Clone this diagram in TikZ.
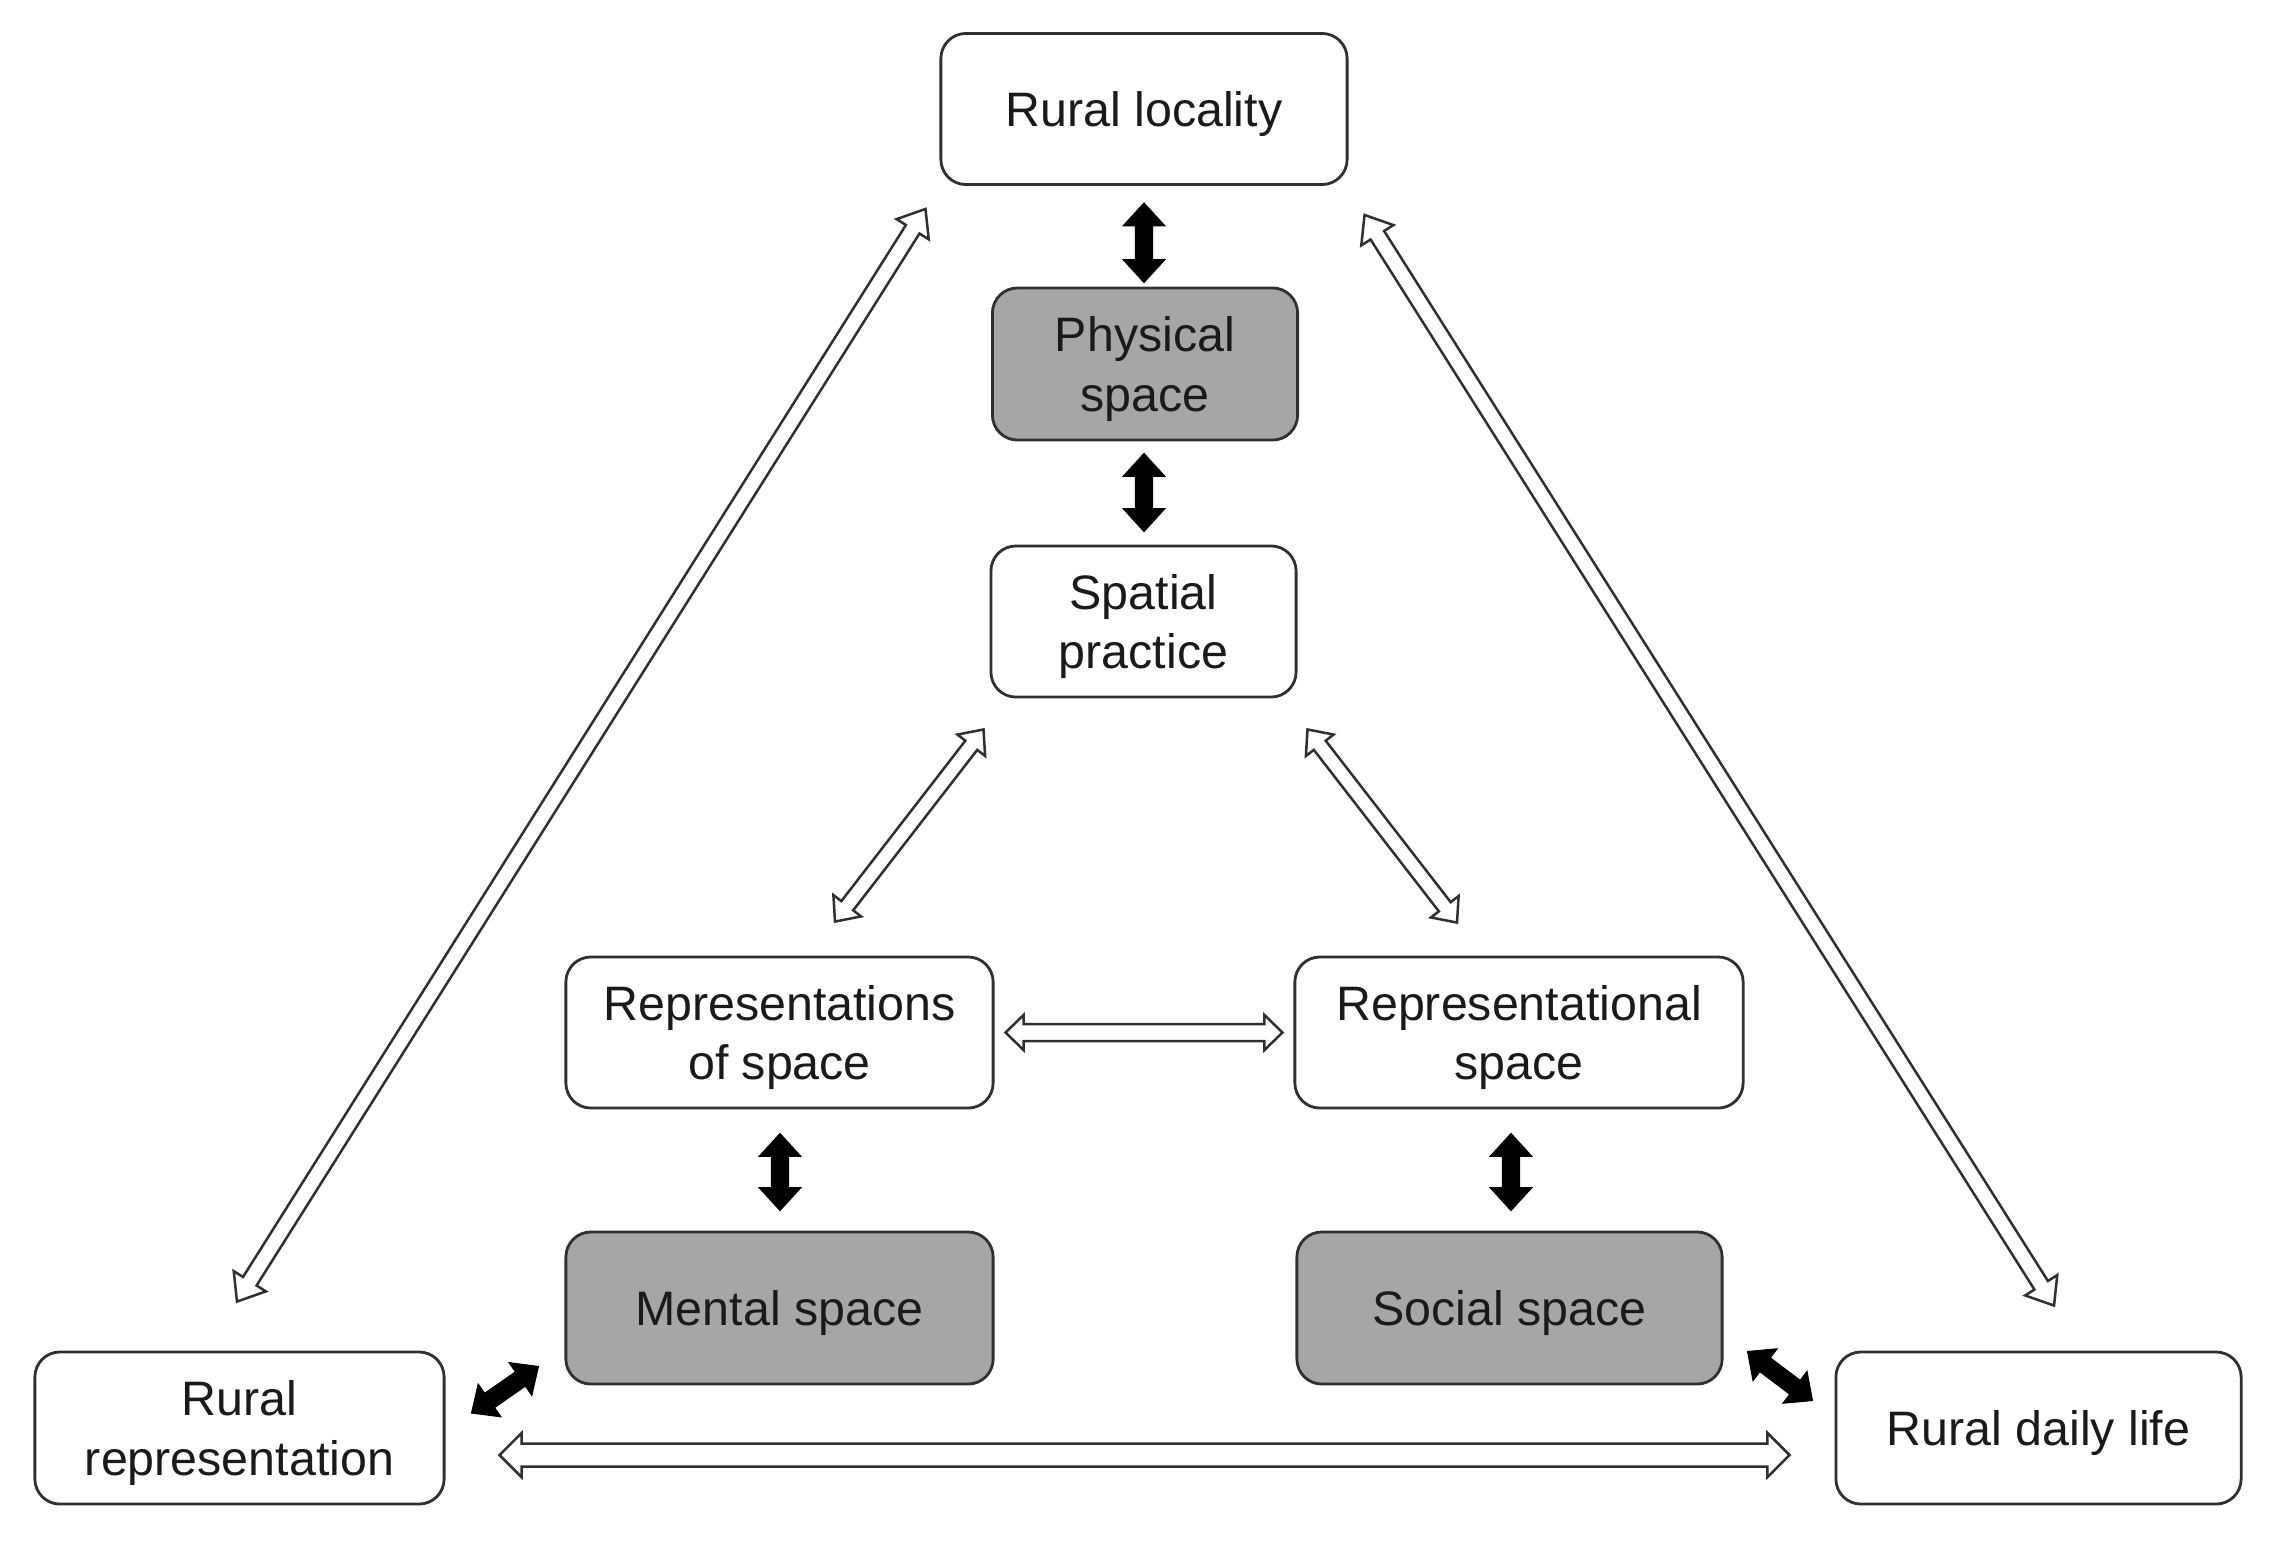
\documentclass[tikz,border=0pt]{standalone}
\usepackage{fontspec}
\setmainfont{Liberation Sans}
\usetikzlibrary{calc}
\definecolor{boxgray}{HTML}{A6A6A6}
\definecolor{edge}{HTML}{303030}
\definecolor{ink}{HTML}{1A1A1A}
\tikzset{
  box/.style={draw=edge, line width=0.028cm, rounded corners=0.25cm, fill=white,
    align=center, text=ink, inner sep=0pt, text depth=0pt,
    font=\fontsize{13.75pt}{16.9pt}\selectfont},
  graybox/.style={box, fill=boxgray},
  solidarr/.style={fill=black, draw=black, line width=0.01cm, line join=miter},
  hollowarr/.style={fill=white, draw=edge, line width=0.025cm, line join=miter}
}
% #1 from, #2 to, #3 shaft half width, #4 head half width, #5 head length, #6 style
\newcommand\blockarr[6]{%
  \coordinate (ha) at ($(#1)!#5!(#2)$);
  \coordinate (hb) at ($(#2)!#5!(#1)$);
  \draw[#6] (#1) -- ($(ha)!#4!90:(#2)$) -- ($(ha)!#3!90:(#2)$)
    -- ($(hb)!#3!-90:(#1)$) -- ($(hb)!#4!-90:(#1)$) -- (#2)
    -- ($(hb)!#4!90:(#1)$) -- ($(hb)!#3!90:(#1)$)
    -- ($(ha)!#3!-90:(#2)$) -- ($(ha)!#4!-90:(#2)$) -- cycle;
}
\begin{document}
\begin{tikzpicture}[x=0.01cm, y=-0.01cm]
\useasboundingbox[fill=white] (0,0) rectangle (2276,1542);

% nodes
\node[box, minimum width=4.06cm, minimum height=1.51cm] (loc) at (1144,109) {Rural locality};
\node[graybox, minimum width=3.05cm, minimum height=1.52cm] (phys) at (1145,364) {Physical\\space};
\node[box, minimum width=3.05cm, minimum height=1.51cm] (spat) at (1143.5,621.5) {Spatial\\practice};
\node[box, minimum width=4.27cm, minimum height=1.51cm] (reps) at (779.5,1032.5) {Representations\\of space};
\node[box, minimum width=4.48cm, minimum height=1.51cm] (repl) at (1519,1032.5) {Representational\\space};
\node[graybox, minimum width=4.27cm, minimum height=1.52cm] (ment) at (779.5,1308) {Mental space};
\node[graybox, minimum width=4.25cm, minimum height=1.52cm] (soc) at (1509.5,1308) {Social space};
\node[box, minimum width=4.09cm, minimum height=1.52cm] (rrep) at (239.5,1428) {Rural\\representation};
\node[box, minimum width=4.05cm, minimum height=1.52cm] (rdl) at (2038.5,1428) {Rural daily life};

% arrow end points
\coordinate (a1) at ($(loc.south)+(0,17)$);
\coordinate (b1) at ($(phys.north)+(-1,-4)$);
\coordinate (a2) at ($(phys.south)+(-1,12)$);
\coordinate (b2) at ($(spat.north)+(0.5,-13)$);
\coordinate (a3) at ($(reps.south)+(0.5,24)$);
\coordinate (b3) at ($(ment.north)+(0.5,-20)$);
\coordinate (a4) at ($(repl.south)+(-8,24)$);
\coordinate (b4) at ($(soc.north)+(1.5,-20)$);
\coordinate (a5) at ($(rrep.east)+(26,-15)$);
\coordinate (b5) at ($(ment.south west)+(-26,-19)$);
\coordinate (a6) at ($(soc.south east)+(24,-34)$);
\coordinate (b6) at ($(rdl.north west)+(-22,50)$);
\coordinate (a7) at ($(rrep.north)+(-2.5,-49)$);
\coordinate (b7) at ($(loc.south west)+(-14,23)$);
\coordinate (a8) at ($(loc.south east)+(16,29)$);
\coordinate (b8) at ($(rdl.north)+(15.5,-45)$);
\coordinate (a9) at ($(reps.north)+(55.5,-34)$);
\coordinate (b9) at ($(spat.south west)+(-6,31)$);
\coordinate (a10) at ($(spat.south east)+(10,31)$);
\coordinate (b10) at ($(repl.north)+(-62,-33)$);
\coordinate (a11) at ($(reps.east)+(11,0)$);
\coordinate (b11) at ($(repl.west)+(-11,0)$);
\coordinate (a12) at ($(rrep.east)+(54,27)$);
\coordinate (b12) at ($(rdl.west)+(-45,27)$);

% solid double arrows
\blockarr{a1}{b1}{0.087cm}{0.21cm}{0.23cm}{solidarr}
\blockarr{a2}{b2}{0.087cm}{0.21cm}{0.23cm}{solidarr}
\blockarr{a3}{b3}{0.087cm}{0.21cm}{0.23cm}{solidarr}
\blockarr{a4}{b4}{0.087cm}{0.21cm}{0.23cm}{solidarr}
\blockarr{a5}{b5}{0.087cm}{0.20cm}{0.22cm}{solidarr}
\blockarr{a6}{b6}{0.087cm}{0.20cm}{0.22cm}{solidarr}

% hollow double arrows
\blockarr{a7}{b7}{0.08cm}{0.19cm}{0.24cm}{hollowarr}
\blockarr{a8}{b8}{0.08cm}{0.19cm}{0.24cm}{hollowarr}
\blockarr{a9}{b9}{0.075cm}{0.175cm}{0.20cm}{hollowarr}
\blockarr{a10}{b10}{0.075cm}{0.175cm}{0.20cm}{hollowarr}
\blockarr{a11}{b11}{0.085cm}{0.175cm}{0.18cm}{hollowarr}
\blockarr{a12}{b12}{0.115cm}{0.22cm}{0.22cm}{hollowarr}
\end{tikzpicture}
\end{document}
